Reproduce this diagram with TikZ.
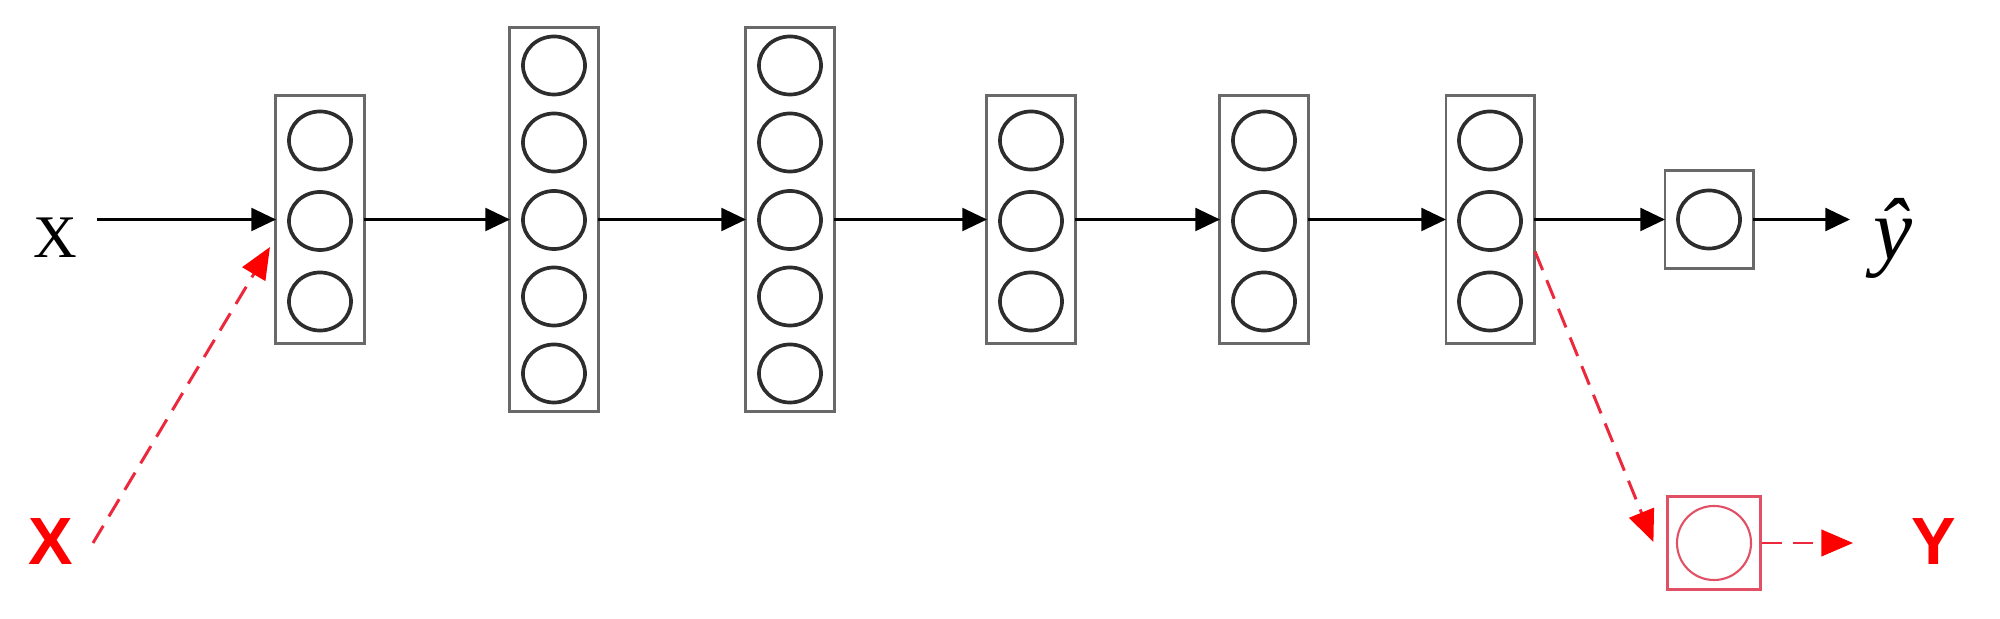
\documentclass[tikz,border=0pt]{standalone}
\usepackage{fontspec}
\newfontfamily\serifX{Liberation Serif}
\newfontfamily\sansB{Liberation Sans}
\usetikzlibrary{arrows.meta,calc,shapes.geometric}
\definecolor{boxgray}{RGB}{105,105,105}
\definecolor{circgray}{RGB}{45,45,45}
\definecolor{redline}{RGB}{238,40,60}
\definecolor{redbox}{RGB}{225,80,100}
\tikzset{
  layerbox/.style={draw=boxgray, line width=0.85pt, minimum width=0.88cm, inner sep=0pt, outer sep=0pt},
  neuron/.style={ellipse, draw=circgray, line width=1.05pt, minimum width=0.62cm, minimum height=0.58cm, inner sep=0pt},
  arr/.style={line width=0.75pt, -{Triangle[length=7pt,width=6.5pt]}},
  reddash/.style={draw=redline, line width=0.85pt, dash pattern=on 5.7pt off 3.1pt, -{Triangle[length=9pt,width=7.5pt,color=red]}},
  redlabel/.style={text=red, font=\sansB\bfseries\fontsize{19}{22}\selectfont, inner sep=0pt}
}
\begin{document}
\begin{tikzpicture}[x=0.01cm, y=-0.01cm]
\useasboundingbox (0,0) rectangle (2000,619);
% boxes with 3 neurons
\foreach \n/\cx in {B1/320, B4/1031, B5/1264, B6/1490} {
  \node[layerbox, minimum height=2.47cm] (\n) at (\cx,219.5) {};
  \foreach \k/\dy in {1/-79, 2/1.5, 3/82} {
    \node[neuron] (\n c\k) at (\cx,219.5+\dy) {};
  }
}
% boxes with 5 neurons
\foreach \n/\cx in {B2/554, B3/790} {
  \node[layerbox, minimum height=3.83cm] (\n) at (\cx,219.5) {};
  \foreach \k/\dy in {1/-154, 2/-77, 3/0.5, 4/77, 5/154} {
    \node[neuron] (\n c\k) at (\cx,219.5+\dy) {};
  }
}
% output box
\node[layerbox, minimum height=0.97cm] (B7) at (1709,219.5) {};
\node[neuron] (B7c1) at (1709,219.5) {};
% red box
\node[draw=redbox, line width=0.6pt, minimum width=0.93cm, minimum height=0.93cm, inner sep=0pt] (RB) at (1714,543) {};
\node[circle, draw=redbox, line width=0.6pt, minimum size=0.74cm, inner sep=0pt] (RBc) at (1714,543) {};
% labels
\node[inner sep=0pt, font=\serifX\fontsize{17.2}{20}\selectfont] (bX) at (55,238) {X};
\node[inner sep=0pt, font=\serifX\itshape\fontsize{25}{30}\selectfont] (yhat) at (1893,238) {ŷ};
\node[redlabel] (rX) at (51,542) {X};
\node[redlabel] (rY) at (1934,542) {Y};
% coordinates for free ends
\coordinate (in) at (97,219.5);
\coordinate (out) at (1850,219.5);
\coordinate (yend) at (1853,543);
% black arrows
\draw[arr] (in) -- (B1.west);
\draw[arr] (B1.east) -- (B2.west);
\draw[arr] (B2.east) -- (B3.west);
\draw[arr] (B3.east) -- (B4.west);
\draw[arr] (B4.east) -- (B5.west);
\draw[arr] (B5.east) -- (B6.west);
\draw[arr] (B6.east) -- (B7.west);
\draw[arr] (B7.east) -- (out);
% red dashed arrows
\draw[reddash] ($(rX.center)+(42,1)$) -- ($(B1.west)+(-6,27.5)$);
\draw[reddash] ($(B6.east)+(1,32)$) -- ($(RB.west)+(-13,-1)$);
\draw[reddash] (RB.east) -- (yend);
\end{tikzpicture}
\end{document}
